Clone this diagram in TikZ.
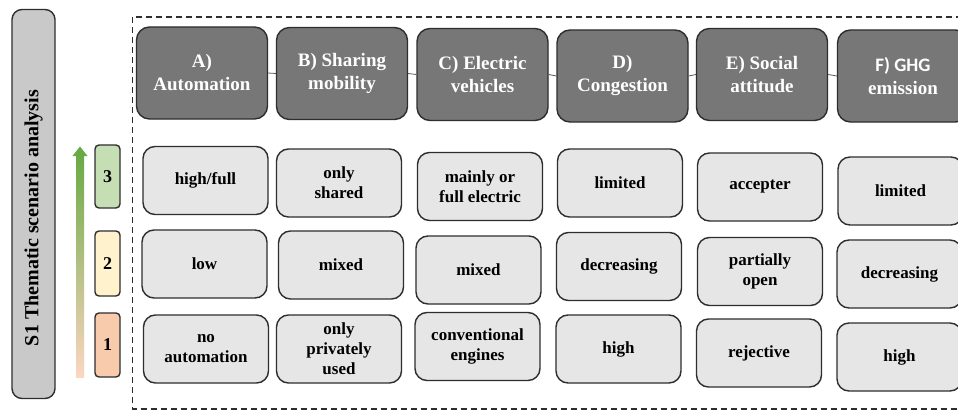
\documentclass[tikz,border=0pt]{standalone}
\usepackage{fontspec}
\setmainfont{Liberation Serif}
\newfontfamily\calfont{Carlito}
\definecolor{hdrfill}{HTML}{777777}
\definecolor{boxfill}{HTML}{E6E6E6}
\definecolor{barfill}{HTML}{C9C9C9}
\definecolor{edge}{HTML}{2E2E2E}
\definecolor{lvlthree}{HTML}{C5DEB3}
\definecolor{lvltwo}{HTML}{FFF2CC}
\definecolor{lvlone}{HTML}{F8CBAD}
\definecolor{arrgreen}{HTML}{6AAA45}
\definecolor{arryellow}{HTML}{FDDD7A}
\definecolor{arrpeach}{HTML}{FCD6C2}
\tikzset{
  hdrbox/.style={draw=edge, line width=1.4pt, fill=hdrfill, rounded corners=13pt,
    minimum width=131pt, minimum height=92pt, text=white, align=center,
    font=\fontsize{19}{23}\selectfont\rmfamily\bfseries, inner sep=0pt},
  cellbox/.style={draw=edge, line width=1.4pt, fill=boxfill, rounded corners=12pt,
    minimum width=125pt, minimum height=68pt, text=black, align=center,
    font=\fontsize{17}{20}\selectfont\rmfamily\bfseries, inner sep=0pt},
  lvlbox/.style={draw=edge, line width=1.4pt, rounded corners=4pt,
    minimum width=25pt, text=black, font=\fontsize{18}{20}\selectfont\rmfamily\bfseries, inner sep=0pt},
  hlink/.style={draw=edge!80, line width=0.8pt}
}
\begin{document}
\begin{tikzpicture}[x=1pt,y=-1pt]
\useasboundingbox (0,0) rectangle (958,412);
\clip (0,0) rectangle (958,412);
\fill[white] (0,0) rectangle (958,412);

% left title bar
\node[draw=edge, line width=1.4pt, fill=barfill, rounded corners=10pt,
  minimum width=43pt, minimum height=389pt, inner sep=0pt] (bar) at (33.5,204) {};
\node[rotate=90, font=\fontsize{20}{22}\selectfont\rmfamily\bfseries] (bartext) at (33.5,218) {S1 Thematic scenario analysis};

% gradient arrow
\shade[top color=arrgreen, middle color=arryellow, bottom color=arrpeach]
  (76,155) rectangle (84,377);
\fill[arrgreen] (72.5,156) -- (80,146.5) -- (87.5,156) -- cycle;

% level boxes
\node[lvlbox, fill=lvlthree, minimum height=63pt] (l3) at (107.5,176.5) {3};
\node[lvlbox, fill=lvltwo, minimum height=65pt] (l2) at (107.5,263.5) {2};
\node[lvlbox, fill=lvlone, minimum height=64pt] (l1) at (107.5,345) {1};

% dashed frame
\draw[edge, line width=1.3pt, dash pattern=on 6pt off 4pt] (132.5,17) rectangle (975,409);

% headers
\node[hdrbox] (hA) at (202,73) {A)\\Automation};
\node[hdrbox] (hB) at (342,73.5) {B) Sharing\\mobility};
\node[hdrbox] (hC) at (482.5,74.5) {C) Electric\\vehicles};
\node[hdrbox] (hD) at (622.5,76) {D)\\Congestion};
\node[hdrbox] (hE) at (762,74.5) {E) Social\\attitude};
\node[hdrbox] (hF) at (903,76) {{\calfont F) GHG}\\emission};
\draw[hlink] (hA.east) -- (hB.west);
\draw[hlink] (hB.east) -- (hC.west);
\draw[hlink] (hC.east) -- (hD.west);
\draw[hlink] (hD.east) -- (hE.west);
\draw[hlink] (hE.east) -- (hF.west);

% column A
\node[cellbox] (a3) at (205.5,180.5) {high/full};
\node[cellbox] (a2) at (204.5,264) {low};
\node[cellbox] (a1) at (206,349) {no\\automation};
% column B
\node[cellbox] (b3) at (339,183) {only\\shared};
\node[cellbox] (b2) at (341,265) {mixed};
\node[cellbox] (b1) at (339,349) {only\\privately\\used};
% column C
\node[cellbox] (c3) at (480,186.5) {mainly or\\full electric};
\node[cellbox] (c2) at (478.5,270) {mixed};
\node[cellbox] (c1) at (477.5,346.5) {conventional\\engines};
% column D
\node[cellbox] (d3) at (620,183) {limited};
\node[cellbox] (d2) at (619,266.5) {decreasing};
\node[cellbox] (d1) at (618.5,349) {high};
% column E
\node[cellbox] (e3) at (760,187) {accepter};
\node[cellbox] (e2) at (760,271.5) {partially\\open};
\node[cellbox] (e1) at (759,353) {rejective};
% column F
\node[cellbox] (f3) at (900.5,191) {limited};
\node[cellbox] (f2) at (899.5,274) {decreasing};
\node[cellbox] (f1) at (899.5,357) {high};
\end{tikzpicture}
\end{document}
